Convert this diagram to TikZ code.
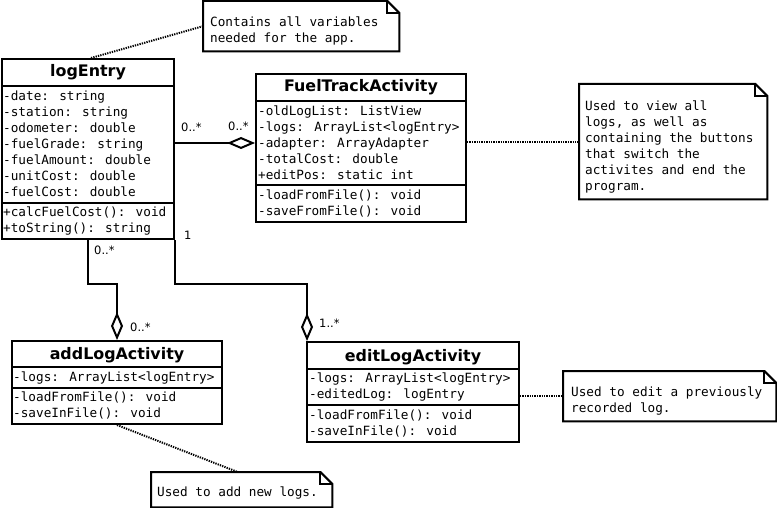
\documentclass[tikz,border=0pt]{standalone}
\usepackage{fontspec}
\setmainfont{DejaVu Sans}
\newfontfamily\monof{DejaVu Sans Mono}
\usetikzlibrary{arrows.meta}
\tikzset{
  umlbox/.style={draw, line width=2pt, inner sep=0pt, anchor=north west},
  notebody/.style={inner sep=0pt, anchor=north west},
  ttl/.style={font=\bfseries\fontsize{15.9}{18}\selectfont, anchor=base, inner sep=0pt},
  txt/.style={font=\monof\fontsize{12.7}{16}\selectfont, anchor=north west, align=left, inner sep=0pt},
  mult/.style={font=\fontsize{11.5}{13}\selectfont, anchor=base west, inner sep=0pt},
  edge/.style={line width=2pt, line join=miter},
  notel/.style={line width=2pt, line join=miter},
  dots/.style={line width=2pt, dash pattern=on 1.3pt off 1.1pt},
  agg/.style={edge, -{Diamond[open, length=28pt, width=12pt]}}
}
\newcommand{\foldnote}[1]{%
  \draw[notel] (#1.north west) -- ([xshift=-12pt]#1.north east)
     -- ([yshift=-12pt]#1.north east) -- (#1.south east) -- (#1.south west) -- cycle;
  \draw[notel] ([xshift=-12pt]#1.north east) -- ([xshift=-12pt,yshift=-12pt]#1.north east)
     -- ([yshift=-12pt]#1.north east);}
\begin{document}
\begin{tikzpicture}[x=1pt,y=-1pt]
\useasboundingbox[fill=white] (0,0) rectangle (777,508);

% ---------- logEntry ----------
\node[umlbox, minimum width=172pt, minimum height=180pt] (logE) at (1,58) {};
\draw[edge] (logE.west |- 0,86) -- (logE.east |- 0,86);
\draw[edge] (logE.west |- 0,203) -- (logE.east |- 0,203);
\node[ttl] (logEt) at (logE.north |- 0,77) {logEntry};
\node[txt] (logEa) at (3,89.3) {\strut-date: string\\\strut-station: string\\\strut-odometer: double\\\strut-fuelGrade: string\\\strut-fuelAmount: double\\\strut-unitCost: double\\\strut-fuelCost: double};
\node[txt] (logEm) at (3,204.8) {\strut+calcFuelCost(): void\\\strut+toString(): string};

% ---------- FuelTrackActivity ----------
\node[umlbox, minimum width=210pt, minimum height=148pt] (ft) at (255,73) {};
\draw[edge] (ft.west |- 0,101) -- (ft.east |- 0,101);
\draw[edge] (ft.west |- 0,185) -- (ft.east |- 0,185);
\node[ttl] (ftt) at (ft.north |- 0,91.7) {FuelTrackActivity};
\node[txt] (fta) at (258,103.8) {\strut-oldLogList: ListView\\\strut-logs: ArrayList<logEntry>\\\strut-adapter: ArrayAdapter\\\strut-totalCost: double\\\strut+editPos: static int};
\node[txt] (ftm) at (258,187.8) {\strut-loadFromFile(): void\\\strut-saveFromFile(): void};

% ---------- addLogActivity ----------
\node[umlbox, minimum width=210pt, minimum height=83pt] (al) at (11,340) {};
\draw[edge] (al.west |- 0,367) -- (al.east |- 0,367);
\draw[edge] (al.west |- 0,388) -- (al.east |- 0,388);
\node[ttl] (alt) at (al.north |- 0,359) {addLogActivity};
\node[txt] (ala) at (13,370.5) {\strut-logs: ArrayList<logEntry>};
\node[txt] (alm) at (13,390.5) {\strut-loadFromFile(): void\\\strut-saveInFile(): void};

% ---------- editLogActivity ----------
\node[umlbox, minimum width=212pt, minimum height=100pt] (el) at (306,341) {};
\draw[edge] (el.west |- 0,369) -- (el.east |- 0,369);
\draw[edge] (el.west |- 0,405) -- (el.east |- 0,405);
\node[ttl] (elt) at (el.north |- 0,361) {editLogActivity};
\node[txt] (ela) at (309,371.5) {\strut-logs: ArrayList<logEntry>\\\strut-editedLog: logEntry};
\node[txt] (elm) at (309,407.8) {\strut-loadFromFile(): void\\\strut-saveInFile(): void};

% ---------- notes ----------
\node[notebody, minimum width=196pt, minimum height=50pt] (n1) at (203,1) {};
\foldnote{n1}
\node[txt] (n1t) at (210,14.8) {\strut Contains all variables\\\strut needed for the app.};

\node[notebody, minimum width=188pt, minimum height=115pt] (n2) at (579,84) {};
\foldnote{n2}
\node[txt] (n2t) at (585,98.8) {\strut Used to view all\\\strut logs, as well as\\\strut containing the buttons\\\strut that switch the\\\strut activites and end the\\\strut program.};

\node[notebody, minimum width=213pt, minimum height=50pt] (n3) at (563,371) {};
\foldnote{n3}
\node[txt] (n3t) at (571,385.5) {\strut Used to edit a previously\\\strut recorded log.};

\node[notebody, minimum width=181pt, minimum height=35pt] (n4) at (151,472) {};
\foldnote{n4}
\node[txt] (n4t) at (157,485.5) {\strut Used to add new logs.};

% ---------- note links ----------
\draw[dots] ([xshift=3pt]logE.north) -- (n1.west);
\draw[dots] (ft.east |- n2.west) -- (n2.west);
\draw[dots] (el.east |- n3.west) -- (n3.west);
\draw[dots] (al.south) -- ([xshift=-4pt]n4.north);

% ---------- associations ----------
\draw[agg] (logE.east |- 0,143) -- (ft.west |- 0,143);
\draw[agg] (logE.south) -- ++(0,44) coordinate (k1) -| (al.north);
\draw[agg] (logE.south east) -- ++(0,44) coordinate (k2) -| ([xshift=1pt]el.north west);

% ---------- multiplicities ----------
\node[mult] (m1) at (181,132) {0..*};
\node[mult] (m2) at (228,131) {0..*};
\node[mult] (m3) at (94,254) {0..*};
\node[mult] (m4) at (130,331) {0..*};
\node[mult] (m5) at (184,240) {1};
\node[mult] (m6) at (319,327) {1..*};
\end{tikzpicture}
\end{document}
